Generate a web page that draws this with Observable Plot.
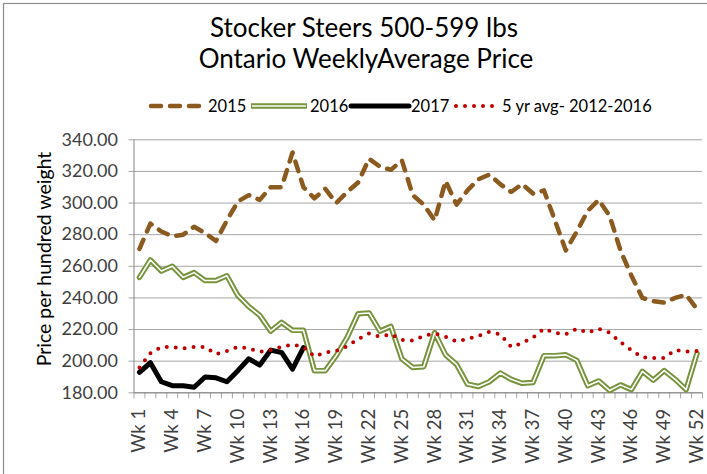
<!DOCTYPE html>
<html><head><meta charset="utf-8">
<script src="https://cdn.jsdelivr.net/npm/d3@7"></script>
<script src="https://cdn.jsdelivr.net/npm/@observablehq/plot@0.6"></script>
<style>
body{margin:0;background:#fff}
#chart{position:relative;width:707px;height:474px;overflow:hidden;background:#fff}
</style>
</head><body><div id="chart"></div>
<script>
const titleLines = ["Stocker Steers 500-599 lbs", "Ontario WeeklyAverage Price"];
const yAxisTitle = "Price per hundred weight";
const seriesNames = ["2015", "2016", "2017", "5 yr avg- 2012-2016"];
const weeks = d3.range(1, 53);
const yTicks = [180, 200, 220, 240, 260, 280, 300, 320, 340];
const xLabelWeeks = [1, 4, 7, 10, 13, 16, 19, 22, 25, 28, 31, 34, 37, 40, 43, 46, 49, 52];

const y2015 = [271,287,282,279,280,285,281,276,289,301, 305,302,310,310,332,310,303,309,300,307,
  313,328,323,321,327,305,299,289,314,299, 308,315,318,312,307,312,306,308,289,270,
  282,295,302,292,270,254,240,238,237,240, 242,233];
const y2016 = [253,264,257,260,253,256,251,251,254,241.5, 234.5,229,219,224.5,219.5,219.5,194,194,203.5,215,
  230,230.5,219,222,201.5,196,196.5,218,204,198, 185.5,184,187,192.5,188.5,186,186.5,203.5,203.5,204,
  200.5,184.5,187.5,181.5,185,182,193.5,188,194,188.5, 182,205];
const y2017 = [193,199,187,184.5,184.5,183.5,190,189.5,187,194,201.5,197.5,207,205.5,195,208.5];
const yAvg = [196,205,209,209,208,209,209,204.5,206.5,209, 208,206,207,209,210.5,209,203,205.5,206.5,209.5,
  214,217.5,215.5,217,213.5,213,216,217.5,215.5,212.5, 214,216,218.5,217,209,211.5,215,220.5,218,217,
  220.5,218,220.5,218,212,207,202.5,202,202,207, 206,206.5];

const rows = (vals) => vals.map((v, i) => ({week: weeks[i], value: v}));
const d2015 = rows(y2015), d2016 = rows(y2016), d2017 = rows(y2017), dAvg = rows(yAvg);
const boundaries = d3.range(0, 53).map(i => i + 0.5);

const C15 = "#8B5A1E", C16 = "#77933C", C17 = "#000000", CAVG = "#C00000";
const FONT = "Lato, 'Open Sans', sans-serif";

const chart = Plot.plot({
  width: 707, height: 474,
  marginTop: 139.3, marginBottom: 474 - 392.3, marginLeft: 133.5, marginRight: 5,
  style: {fontFamily: FONT, fontSize: "18px", color: "#404040", background: "#fff", overflow: "visible"},
  x: {type: "linear", domain: [0.5, 52.5]},
  y: {domain: [180, 340]},
  marks: [
    Plot.gridY(yTicks, {stroke: "#a6a6a6", strokeOpacity: 1, strokeWidth: 1}),
    Plot.axisY(yTicks, {tickFormat: d => d.toFixed(2), tickSize: 5, tickPadding: 11, stroke: "#a6a6a6", label: null, fontSize: 18}),
    Plot.axisX(boundaries, {tickFormat: () => "", tickSize: 6, stroke: "#a6a6a6", label: null}),
    Plot.axisX(xLabelWeeks, {tickFormat: d => "Wk " + d, tickSize: 0, tickRotate: -90, tickPadding: 16, label: null, fontSize: 18.5}),
    Plot.ruleY([180], {stroke: "#868686"}),
    Plot.ruleX([0.5], {stroke: "#868686"}),
    Plot.line(d2015, {x: "week", y: "value", stroke: C15, strokeWidth: 4.5, strokeDasharray: "10,9", strokeLinecap: "round", strokeLinejoin: "round"}),
    Plot.line(d2016, {x: "week", y: "value", stroke: C16, strokeWidth: 5.5, strokeLinejoin: "round"}),
    Plot.line(d2016, {x: "week", y: "value", stroke: "#ffffff", strokeWidth: 1.6, strokeLinejoin: "round"}),
    Plot.line(d2017, {x: "week", y: "value", stroke: C17, strokeWidth: 5, strokeLinejoin: "round", strokeLinecap: "round"}),
    Plot.line(dAvg, {x: "week", y: "value", stroke: CAVG, strokeWidth: 4, strokeDasharray: "0,9", strokeLinecap: "round"})
  ]
});
document.getElementById("chart").appendChild(chart);

const svg = d3.select(chart);
// outer chart border
svg.append("rect").attr("x", 3.5).attr("y", 3.5).attr("width", 720).attr("height", 500)
  .attr("fill", "none").attr("stroke", "#8c8c8c").attr("stroke-width", 1.2);
// title
const title = svg.append("g").attr("font-family", FONT).attr("font-size", 26).attr("fill", "#000").attr("text-anchor", "middle");
title.append("text").attr("x", 364).attr("y", 37).text(titleLines[0]);
title.append("text").attr("x", 366).attr("y", 68).text(titleLines[1]);
// y axis title
svg.append("text").attr("transform", "translate(43,259) rotate(-90)")
  .attr("text-anchor", "middle").attr("dominant-baseline", "central")
  .attr("font-family", FONT).attr("font-size", 19.5).attr("fill", "#000").text(yAxisTitle);
// legend
const lg = svg.append("g").attr("font-family", FONT).attr("font-size", 16.5).attr("fill", "#000").attr("text-anchor", "start");
const ly = 106;
const sw = [
  {x1: 151, x2: 203, tx: 208, draw: (g, a, b) => g.append("line").attr("x1", a).attr("x2", b).attr("y1", ly).attr("y2", ly).attr("stroke", C15).attr("stroke-width", 4.5).attr("stroke-dasharray", "10,9").attr("stroke-linecap", "round")},
  {x1: 251, x2: 307, tx: 310, draw: (g, a, b) => { g.append("line").attr("x1", a).attr("x2", b).attr("y1", ly).attr("y2", ly).attr("stroke", C16).attr("stroke-width", 5.5); g.append("line").attr("x1", a + 1).attr("x2", b - 1).attr("y1", ly).attr("y2", ly).attr("stroke", "#fff").attr("stroke-width", 1.6); }},
  {x1: 351, x2: 409, tx: 411, draw: (g, a, b) => g.append("line").attr("x1", a).attr("x2", b).attr("y1", ly).attr("y2", ly).attr("stroke", C17).attr("stroke-width", 5).attr("stroke-linecap", "round")},
  {x1: 456, x2: 499, tx: 502, draw: (g, a, b) => g.append("line").attr("x1", a).attr("x2", b).attr("y1", ly).attr("y2", ly).attr("stroke", CAVG).attr("stroke-width", 4).attr("stroke-dasharray", "0,9").attr("stroke-linecap", "round")}
];
sw.forEach((s, i) => {
  s.draw(lg, s.x1, s.x2);
  lg.append("text").attr("x", s.tx).attr("y", ly).attr("dominant-baseline", "central").text(seriesNames[i]);
});
</script>
</body></html>
